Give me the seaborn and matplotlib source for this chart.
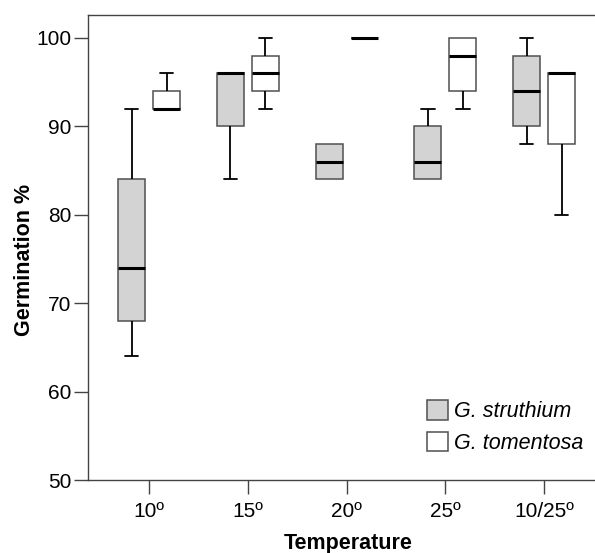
import pandas as pd
import matplotlib
matplotlib.use("Agg")
import matplotlib.pyplot as plt
import seaborn as sns

# Five-number summaries (min, Q1, median, Q3, max)
temps = ["10º", "15º", "20º", "25º", "10/25º"]
species = ["G. struthium", "G. tomentosa"]
struthium = [
    [64, 68, 74, 84, 92],
    [84, 90, 96, 96, 96],
    [84, 84, 86, 88, 88],
    [84, 84, 86, 90, 92],
    [88, 90, 94, 98, 100],
]
tomentosa = [
    [92, 92, 92, 94, 96],
    [92, 94, 96, 98, 100],
    [100, 100, 100, 100, 100],
    [92, 94, 98, 100, 100],
    [80, 88, 96, 96, 96],
]

# Long table for seaborn
rows = []
for name, groups in zip(species, [struthium, tomentosa]):
    for t, vals in zip(temps, groups):
        for v in vals:
            rows.append({"Temperature": t, "Germination": v, "Species": name})
df = pd.DataFrame(rows)

sns.set_theme(style="ticks")
plt.rcParams["font.family"] = ["Liberation Sans", "DejaVu Sans"]
plt.rcParams["text.color"] = "black"
plt.rcParams["axes.labelcolor"] = "black"
plt.rcParams["xtick.labelcolor"] = "black"
plt.rcParams["ytick.labelcolor"] = "black"

fig = plt.figure(figsize=(5.95, 5.53), dpi=100)
ax = fig.add_axes([0.148, 0.132, 0.852, 0.841])

sns.boxplot(
    data=df, x="Temperature", y="Germination", hue="Species",
    order=temps, hue_order=species,
    palette={"G. struthium": "#d3d3d3", "G. tomentosa": "white"},
    width=0.708, gap=0.23, whis=1.5, showfliers=False,
    boxprops=dict(edgecolor="#505050", linewidth=1.1),
    medianprops=dict(color="black", linewidth=2.2),
    whiskerprops=dict(color="black", linewidth=1.3),
    capprops=dict(color="black", linewidth=1.3),
    ax=ax,
)

# no cap where the whisker has zero length (as in SPSS)
lines = list(ax.lines)
flat = []
for ln in lines:
    xs, ys = ln.get_xdata(), ln.get_ydata()
    if len(xs) == 2 and xs[0] == xs[1] and ys[0] == ys[1]:
        flat.append((xs[0], ys[0]))
        ln.set_visible(False)
for ln in lines:
    xs, ys = ln.get_xdata(), ln.get_ydata()
    if len(xs) == 2 and ys[0] == ys[1] and xs[0] != xs[1]:
        cx = (xs[0] + xs[1]) / 2
        span = abs(xs[1] - xs[0])
        for fx, fy in flat:
            if abs(cx - fx) < 1e-6 and fy == ys[0] and span < 0.2:
                ln.set_visible(False)

ax.set_xlim(-0.618, 4.516)
ax.set_ylim(50, 102.6)
ax.set_yticks([50, 60, 70, 80, 90, 100])

ax.set_xlabel("Temperature", fontsize=15.5, fontweight="bold")
ax.set_ylabel("Germination %", fontsize=15.5, fontweight="bold")
ax.xaxis.set_label_coords(0.513, -0.113)
ax.yaxis.set_label_coords(-0.105, 0.473)

ax.tick_params(axis="both", labelsize=15, length=10, width=1.0,
               color="#444444")
ax.tick_params(axis="x", pad=5.5)
ax.tick_params(axis="y", pad=2.0)
for side in ["left", "top", "bottom"]:
    ax.spines[side].set_color("#444444")
    ax.spines[side].set_linewidth(1.0)
ax.spines["right"].set_visible(False)

handles, labels = ax.get_legend_handles_labels()
for h in handles:
    h.set_edgecolor("#505050")
ax.legend(handles, labels, loc="lower left", bbox_to_anchor=(0.668, 0.056),
          frameon=False, prop={"style": "italic", "size": 15.5},
          handlelength=1.0, handleheight=1.0, handletextpad=0.25,
          labelspacing=0.45, borderpad=0, borderaxespad=0)

fig.savefig("out.png", dpi=100)
